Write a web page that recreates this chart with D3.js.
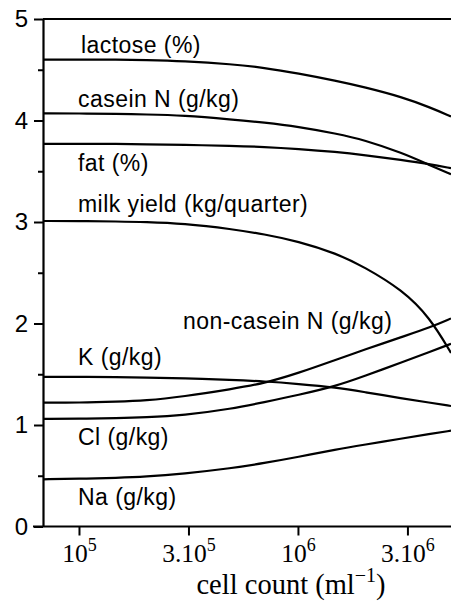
<!DOCTYPE html>
<html>
<head>
<meta charset="utf-8">
<script src="https://cdn.jsdelivr.net/npm/d3@7"></script>
<style>
  html, body { margin: 0; padding: 0; background: #fff; }
  svg { display: block; }
</style>
</head>
<body>
<svg id="chart" width="451" height="604"></svg>
<script>
// Somatic cell count (per ml) at which each curve is sampled
const cellCounts = [6.85e4, 1e5, 1.5e5, 2e5, 3e5, 5e5, 7e5, 1e6, 1.5e6, 2e6, 3e6, 4e6, 5e6];

// Milk composition along the cell-count range
const lactose    = [4.60, 4.60, 4.60, 4.595, 4.585, 4.555, 4.52, 4.465, 4.39, 4.33, 4.23, 4.13, 4.04];
const caseinN    = [4.07, 4.07, 4.065, 4.06, 4.05, 4.01, 3.98, 3.94, 3.87, 3.81, 3.68, 3.56, 3.47];
const fat        = [3.77, 3.77, 3.77, 3.765, 3.76, 3.75, 3.74, 3.72, 3.69, 3.66, 3.61, 3.57, 3.53];
const milkYield  = [3.01, 3.01, 3.005, 3.0, 2.985, 2.93, 2.88, 2.81, 2.69, 2.56, 2.33, 2.06, 1.71];
const nonCaseinN = [1.22, 1.22, 1.23, 1.24, 1.28, 1.355, 1.41, 1.51, 1.645, 1.74, 1.87, 1.96, 2.05];
const potassium  = [1.475, 1.475, 1.472, 1.468, 1.46, 1.445, 1.43, 1.405, 1.37, 1.325, 1.262, 1.22, 1.187];
const chloride   = [1.06, 1.062, 1.068, 1.075, 1.095, 1.16, 1.225, 1.295, 1.385, 1.48, 1.62, 1.72, 1.80];
const sodium     = [0.465, 0.47, 0.48, 0.49, 0.52, 0.575, 0.625, 0.685, 0.76, 0.805, 0.868, 0.911, 0.944];

const seriesNames = ["lactose (%)", "casein N (g/kg)", "fat (%)", "milk yield (kg/quarter)",
                     "non-casein N (g/kg)", "K (g/kg)", "Cl (g/kg)", "Na (g/kg)"];
const seriesValues = [lactose, caseinN, fat, milkYield, nonCaseinN, potassium, chloride, sodium];

// Axis ticks
const yTicks = [0, 1, 2, 3, 4, 5];
const yMinorTicks = [0.5, 1.5, 2.5, 3.5, 4.5];
const xTicks = [1e5, Math.pow(10, 5.5), 1e6, Math.pow(10, 6.5)];
const xTickBase = ["10", "3.10", "10", "3.10"];
const xTickExp = ["5", "5", "6", "6"];

// Layout
const plotLeft = 43, plotRight = 451, plotTop = 19, plotBottom = 526.5;
// Label anchor (left x, baseline y) for each curve name
const labelPos = [
  [81, 52.5], [78, 107], [78, 171], [78, 211.5],
  [183, 329], [78, 365], [78, 445], [78, 505]
];

const svg = d3.select("#chart");

const x = d3.scaleLog().domain([6.85e4, 5e6]).range([plotLeft, plotRight]);
const y = d3.scaleLinear().domain([0, 5]).range([plotBottom, plotTop]);

const sans = "'Liberation Sans', Arial, Helvetica, sans-serif";
const serif = "'Liberation Serif', 'Times New Roman', Times, serif";

// Curves
const line = d3.line()
  .x(d => x(d[0]))
  .y(d => y(d[1]))
  .curve(d3.curveBasis);

const plot = svg.append("g");
seriesValues.forEach(vals => {
  plot.append("path")
    .datum(cellCounts.map((c, i) => [c, vals[i]]))
    .attr("fill", "none")
    .attr("stroke", "#000")
    .attr("stroke-width", 2.2)
    .attr("d", line);
});

// Curve names
svg.append("g")
  .selectAll("text")
  .data(seriesNames)
  .join("text")
  .attr("x", (d, i) => labelPos[i][0])
  .attr("y", (d, i) => labelPos[i][1])
  .attr("font-family", sans)
  .attr("font-size", 23)
  .attr("letter-spacing", 0.45)
  .attr("fill", "#000")
  .text(d => d);

// Top frame line
svg.append("line")
  .attr("x1", plotLeft).attr("x2", plotRight)
  .attr("y1", y(5)).attr("y2", y(5))
  .attr("stroke", "#000").attr("stroke-width", 2.2);

// Y axis: labelled integer ticks
const yAxis = svg.append("g")
  .attr("transform", `translate(${plotLeft},0)`)
  .call(d3.axisLeft(y).tickValues(yTicks).tickFormat(d3.format("d"))
    .tickSize(9).tickSizeOuter(0).tickPadding(6));
yAxis.select(".domain").attr("stroke-width", 2.2);
yAxis.selectAll(".tick line").attr("stroke-width", 2);
yAxis.selectAll(".tick text")
  .attr("font-family", sans)
  .attr("font-size", 24)
  .attr("fill", "#000");

// Y axis: unlabelled half-unit ticks
const yMinor = svg.append("g")
  .attr("transform", `translate(${plotLeft},0)`)
  .call(d3.axisLeft(y).tickValues(yMinorTicks).tickSize(5).tickSizeOuter(0).tickFormat(""));
yMinor.select(".domain").remove();
yMinor.selectAll(".tick line").attr("stroke-width", 2);

// X axis
const xAxis = svg.append("g")
  .attr("transform", `translate(0,${plotBottom})`)
  .call(d3.axisBottom(x).tickValues(xTicks).tickSize(9).tickSizeOuter(0).tickFormat(""));
xAxis.select(".domain").attr("stroke-width", 2.2).attr("d", `M${plotLeft - 10},0H${plotRight}`);
xAxis.selectAll(".tick line").attr("stroke-width", 2);
xAxis.selectAll(".tick text").remove();
xAxis.selectAll(".tick").each(function(d, i) {
  const t = d3.select(this).append("text")
    .attr("y", 35.5)
    .attr("text-anchor", "middle")
    .attr("font-family", serif)
    .attr("font-size", 25.5)
    .attr("fill", "#000");
  t.append("tspan").text(xTickBase[i]);
  t.append("tspan").attr("font-size", 18).attr("dy", -11).text(xTickExp[i]);
});

// X axis title
const title = svg.append("text")
  .attr("x", 291)
  .attr("y", 593.5)
  .attr("text-anchor", "middle")
  .attr("font-family", serif)
  .attr("font-size", 28.5)
  .attr("fill", "#000");
title.append("tspan").text("cell count (ml");
title.append("tspan").attr("font-size", 20).attr("dy", -12).text("\u22121");
title.append("tspan").attr("dy", 12).text(")");
</script>
</body>
</html>
